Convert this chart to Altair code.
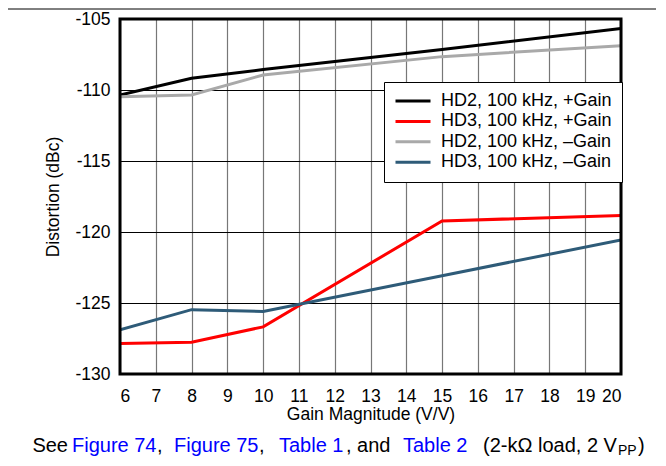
import altair as alt
import pandas as pd

gain = [6, 8, 10, 15, 20]
hd2_pos = [-110.35, -109.17, -108.56, -107.15, -105.66]
hd3_pos = [-127.86, -127.76, -126.68, -119.22, -118.84]
hd2_neg = [-110.47, -110.35, -108.94, -107.65, -106.88]
hd3_neg = [-126.88, -125.47, -125.59, -123.08, -120.56]
series = ["HD2, 100 kHz, +Gain", "HD3, 100 kHz, +Gain",
          "HD2, 100 kHz, \u2013Gain", "HD3, 100 kHz, \u2013Gain"]
colors = ["#000000", "#FF0000", "#A9A9A9", "#2E5B78"]
x_ticks = list(range(6, 21))
y_ticks = [-130, -125, -120, -115, -110, -105]

FONT = "Liberation Sans"
W, H = 501, 355

rows = []
for name, vals in zip(series, [hd2_pos, hd3_pos, hd2_neg, hd3_neg]):
    for g, v in zip(gain, vals):
        rows.append({"gain": g, "dist": v, "series": name})
df = pd.DataFrame(rows)

lines = alt.Chart(df).mark_line(strokeWidth=3, clip=True).encode(
    x=alt.X("gain:Q", scale=alt.Scale(domain=[6, 20], nice=False, zero=False),
            axis=alt.Axis(values=x_ticks, title="Gain Magnitude (V/V)", grid=True,
                          gridColor="#777777", gridWidth=1.2, gridOpacity=1,
                          ticks=False, domain=False, labelFontSize=17.5,
                          labelPadding=13, titleFontSize=17.5, titlePadding=1,
                          labelFont=FONT, titleFont=FONT, titleFontWeight="normal",
                          labelColor="black", titleColor="black",
                          labelExpr="'' + datum.value")),
    y=alt.Y("dist:Q", scale=alt.Scale(domain=[-130, -105], nice=False, zero=False),
            axis=alt.Axis(values=y_ticks, title="Distortion (dBc)", grid=True,
                          gridColor="#000000", gridWidth=1, gridOpacity=1,
                          ticks=False, domain=False, labelFontSize=17.5,
                          labelPadding=10, titleFontSize=17.5, titlePadding=12,
                          labelFont=FONT, titleFont=FONT, titleFontWeight="normal",
                          labelColor="black", titleColor="black",
                          labelExpr="'' + datum.value")),
    color=alt.Color("series:N", scale=alt.Scale(domain=series, range=colors),
                    legend=alt.Legend(title=None, orient="none", legendX=264, legendY=63,
                                      symbolType="stroke", symbolSize=1225,
                                      symbolStrokeWidth=3, labelFontSize=18,
                                      labelFont=FONT, labelColor="black",
                                      labelOffset=9, rowPadding=2.4,
                                      padding=10, clipHeight=18,
                                      fillColor="white", strokeColor="black",
                                      labelLimit=400)),
    detail="series:N",
)

frame = alt.Chart(pd.DataFrame({"a": [0]})).mark_rect(
    fill=None, stroke="black", strokeWidth=3).encode(
    x=alt.value(0), x2=alt.value(W), y=alt.value(0), y2=alt.value(H))

top_rule = alt.Chart(pd.DataFrame({"a": [0]})).mark_rule(
    color="black", strokeWidth=1).encode(
    x=alt.value(-112), x2=alt.value(W + 35), y=alt.value(-10))

# (text, colour, page x, align, font size, page baseline y)
caption_parts = [
    ("See", "black", 68, "right", 20, 452),
    ("Figure 74", "#0000FF", 72, "left", 20, 452),
    (",", "black", 157, "left", 20, 452),
    ("Figure 75", "#0000FF", 174, "left", 20, 452),
    (",", "black", 259, "left", 20, 452),
    ("Table 1", "#0000FF", 279, "left", 20, 452),
    (", and", "black", 346, "left", 20, 452),
    ("Table 2", "#0000FF", 403, "left", 20, 452),
    ("(2-k\u03A9 load, 2 V", "black", 483, "left", 20, 452),
    ("PP", "black", 618, "left", 14, 455),
    (")", "black", 638, "left", 20, 452),
]
cap_layers = []
for txt, col, px, al, fs, py in caption_parts:
    cap_layers.append(
        alt.Chart(pd.DataFrame({"t": [txt]})).mark_text(
            align=al, baseline="alphabetic", font=FONT, fontSize=fs, color=col
        ).encode(text="t:N", x=alt.value(px - 120), y=alt.value(py - 19))
    )

chart = alt.layer(lines, frame, top_rule, *cap_layers).properties(
    width=W, height=H,
    autosize=alt.AutoSizeParams(type="none"),
    padding={"left": 112, "top": 11, "right": 35, "bottom": 84},
).configure_view(stroke=None).configure(background="white")

chart.save("out.html", embed_options={"renderer": "svg", "actions": False})
